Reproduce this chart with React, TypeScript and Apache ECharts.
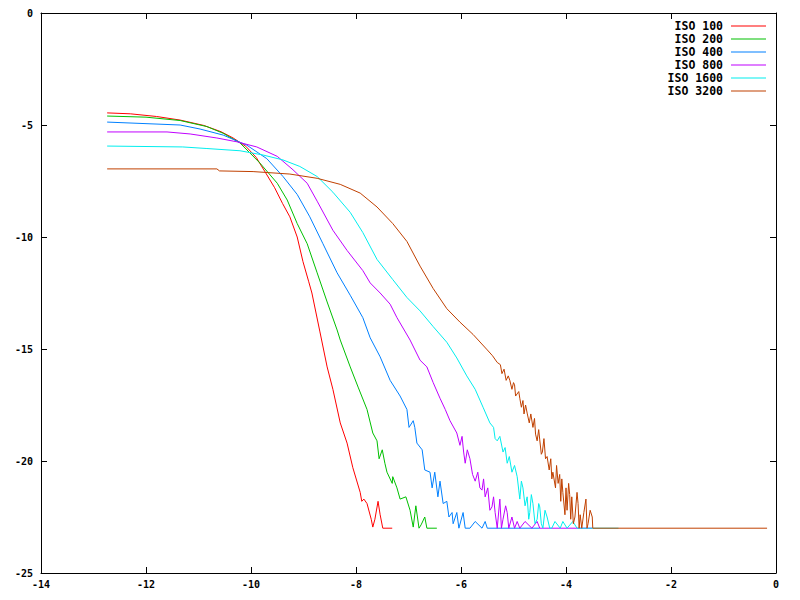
import React, { useEffect, useRef } from "react";
import * as echarts from "echarts";

const seriesNames = ["ISO 100", "ISO 200", "ISO 400", "ISO 800", "ISO 1600", "ISO 3200"];
const seriesColors = ["#ff0000", "#00c000", "#0080ff", "#c000ff", "#00eeee", "#c04000"];

const xTicks = [-14, -12, -10, -8, -6, -4, -2, 0];
const yTicks = [0, -5, -10, -15, -20, -25];

const iso100 = [
  [-12.74, -4.46], [-12.3, -4.5], [-11.8, -4.62], [-11.35, -4.78], [-10.9, -5.02], [-10.57, -5.3],
  [-10.34, -5.58], [-10.1, -5.95], [-9.9, -6.45], [-9.73, -7.1], [-9.55, -7.8], [-9.4, -8.5],
  [-9.26, -9.1], [-9.12, -10.0], [-9.01, -11.1], [-8.9, -12.0], [-8.84, -12.5], [-8.69, -14.2],
  [-8.55, -15.8], [-8.44, -16.8], [-8.3, -18.3], [-8.17, -19.2], [-8.06, -20.3], [-7.92, -21.4],
  [-7.89, -21.8], [-7.85, -21.7], [-7.79, -21.9], [-7.71, -22.6], [-7.68, -22.95], [-7.64, -22.6],
  [-7.58, -21.8], [-7.54, -22.4], [-7.49, -23], [-7.31, -23],
];

const iso200 = [
  [-12.74, -4.6], [-12.0, -4.65], [-11.35, -4.8], [-10.84, -5.07], [-10.53, -5.37], [-10.21, -5.8],
  [-9.83, -6.7], [-9.5, -7.6], [-9.31, -8.35], [-9.12, -9.4], [-8.93, -10.3], [-8.74, -11.6],
  [-8.55, -12.9], [-8.36, -14.15], [-8.3, -14.6], [-8.11, -15.8], [-7.96, -16.7], [-7.79, -17.7],
  [-7.68, -18.75], [-7.6, -19.1], [-7.56, -19.9], [-7.5, -19.5], [-7.45, -20.1], [-7.41, -20.5],
  [-7.31, -21.0], [-7.3, -20.7], [-7.22, -21.2], [-7.16, -21.7], [-7.05, -21.6], [-6.97, -22.2],
  [-6.91, -22.95], [-6.86, -22.0], [-6.8, -23], [-6.76, -22.85], [-6.69, -22.5], [-6.65, -23],
  [-6.46, -23],
];

const iso400 = [
  [-12.74, -4.87], [-11.35, -5.0], [-10.97, -5.18], [-10.53, -5.45], [-10.08, -5.9], [-9.7, -6.5],
  [-9.39, -7.3], [-9.12, -8.1], [-8.88, -9.1], [-8.63, -10.3], [-8.36, -11.6], [-8.11, -12.6],
  [-7.87, -13.6], [-7.73, -14.5], [-7.54, -15.35], [-7.35, -16.4], [-7.16, -17.1], [-7.03, -17.7],
  [-6.99, -18.5], [-6.91, -18.2], [-6.88, -18.5], [-6.84, -19.2], [-6.74, -19.5], [-6.69, -20.4],
  [-6.59, -20.5], [-6.55, -21.2], [-6.5, -20.5], [-6.44, -21.6], [-6.4, -20.9], [-6.34, -21.9],
  [-6.27, -21.8], [-6.23, -22.5], [-6.17, -22.3], [-6.15, -22.8], [-6.08, -22.3], [-6.04, -23],
  [-5.96, -22.3], [-5.92, -23], [-5.83, -23], [-5.73, -22.7], [-5.6, -23], [-5.54, -22.7],
  [-5.5, -23], [-4.5, -23],
];

const iso800 = [
  [-12.74, -5.31], [-11.6, -5.31], [-11.16, -5.4], [-10.65, -5.58], [-10.27, -5.75], [-9.89, -5.98],
  [-9.5, -6.4], [-9.2, -7.0], [-8.93, -7.6], [-8.74, -8.4], [-8.44, -9.7], [-8.17, -10.6],
  [-7.87, -11.5], [-7.73, -12.05], [-7.54, -12.5], [-7.35, -13.0], [-7.22, -13.6], [-6.97, -14.6],
  [-6.78, -15.5], [-6.65, -15.8], [-6.53, -16.5], [-6.4, -17.2], [-6.3, -17.7], [-6.21, -18.2],
  [-6.08, -18.75], [-6.02, -19.3], [-5.98, -18.9], [-5.95, -19.6], [-5.92, -20.1], [-5.88, -19.5],
  [-5.83, -19.9], [-5.78, -20.6], [-5.73, -20.9], [-5.68, -20.5], [-5.64, -21.2], [-5.6, -21.3],
  [-5.57, -20.8], [-5.54, -21.6], [-5.49, -21.2], [-5.45, -22.2], [-5.41, -22.05], [-5.38, -21.6],
  [-5.35, -22.3], [-5.31, -23], [-5.26, -21.7], [-5.23, -23], [-5.2, -22.6], [-5.15, -22.0],
  [-5.12, -22.3], [-5.09, -23], [-5.03, -22.5], [-4.98, -23], [-4.93, -22.7], [-4.88, -23],
  [-4.78, -22.7], [-4.65, -23], [-4.55, -22.7], [-4.5, -23], [-3.5, -23],
];

const iso1600 = [
  [-12.74, -5.94], [-11.3, -5.98], [-10.84, -6.05], [-10.21, -6.15], [-9.77, -6.34], [-9.39, -6.56],
  [-9.07, -6.85], [-8.74, -7.3], [-8.44, -8.0], [-8.11, -8.9], [-7.87, -9.8], [-7.6, -11.0],
  [-7.3, -11.9], [-7.03, -12.7], [-6.78, -13.3], [-6.53, -14.0], [-6.27, -14.7], [-6.08, -15.4],
  [-5.89, -16.2], [-5.73, -16.8], [-5.58, -17.6], [-5.45, -18.3], [-5.38, -18.5], [-5.35, -19.0],
  [-5.31, -19.1], [-5.26, -18.9], [-5.2, -19.6], [-5.16, -19.4], [-5.12, -20.1], [-5.08, -19.8],
  [-5.03, -20.5], [-4.98, -20.2], [-4.93, -20.7], [-4.9, -21.3], [-4.88, -21.7], [-4.85, -20.9],
  [-4.82, -21.2], [-4.78, -22.0], [-4.74, -21.6], [-4.71, -22.6], [-4.69, -22.3], [-4.66, -21.5],
  [-4.63, -21.9], [-4.59, -22.8], [-4.55, -22.6], [-4.52, -21.9], [-4.5, -22.05], [-4.47, -22.8],
  [-4.44, -23], [-4.4, -22.2], [-4.36, -22.5], [-4.31, -23], [-4.27, -23], [-4.21, -22.7],
  [-4.11, -23], [-4.06, -22.7], [-3.98, -23], [-3.87, -22.7], [-3.79, -23], [-3.0, -23],
];

const iso3200 = [
  [-12.74, -6.96], [-10.65, -6.96], [-10.6, -7.05], [-9.96, -7.08], [-9.26, -7.19], [-8.74, -7.38],
  [-8.3, -7.65], [-7.92, -8.04], [-7.6, -8.66], [-7.3, -9.4], [-7.03, -10.2], [-6.78, -11.3],
  [-6.53, -12.3], [-6.27, -13.2], [-6.02, -13.8], [-5.77, -14.35], [-5.5, -15.04], [-5.4, -15.3],
  [-5.31, -15.6], [-5.25, -15.7], [-5.22, -16.1], [-5.18, -15.9], [-5.14, -16.4], [-5.1, -16.2],
  [-5.07, -16.4], [-5.03, -16.8], [-5.0, -16.5], [-4.98, -16.6], [-4.96, -17.1], [-4.9, -16.9],
  [-4.88, -17.2], [-4.85, -17.6], [-4.82, -17.3], [-4.8, -17.9], [-4.77, -17.5], [-4.74, -17.86],
  [-4.7, -18.3], [-4.67, -17.9], [-4.63, -18.5], [-4.6, -18.1], [-4.58, -18.8], [-4.55, -19.1],
  [-4.52, -18.6], [-4.5, -19.06], [-4.47, -19.7], [-4.45, -19.6], [-4.42, -19.0], [-4.39, -19.9],
  [-4.36, -19.8], [-4.32, -20.4], [-4.29, -19.9], [-4.27, -20.8], [-4.25, -20.5], [-4.2, -21.2],
  [-4.18, -20.2], [-4.15, -21.0], [-4.12, -20.6], [-4.1, -21.8], [-4.08, -20.8], [-4.06, -21.4],
  [-4.02, -22.4], [-4.0, -21.2], [-3.98, -22.2], [-3.95, -21.0], [-3.93, -21.5], [-3.91, -22.6],
  [-3.89, -21.6], [-3.86, -22.8], [-3.83, -22.5], [-3.79, -21.4], [-3.77, -21.9], [-3.75, -23],
  [-3.73, -22.4], [-3.7, -23], [-3.66, -22.3], [-3.62, -21.7], [-3.6, -23], [-3.58, -22.8],
  [-3.54, -22.2], [-3.5, -22.5], [-3.49, -23], [-0.17, -23],
];

const seriesData = [iso100, iso200, iso400, iso800, iso1600, iso3200];

export default function App() {
  const ref = useRef<HTMLDivElement>(null);
  useEffect(() => {
    if (!ref.current) return;
    const chart = echarts.init(ref.current, undefined, { renderer: "svg" });
    const labelFont = {
      fontFamily: "DejaVu Sans Mono",
      fontWeight: "bold" as const,
      fontSize: 10,
      color: "#000",
    };
    const axisBase = {
      type: "value" as const,
      splitLine: { show: false },
      axisLine: { show: true, onZero: false, lineStyle: { color: "#000", width: 1 } },
      axisTick: { show: true, inside: true, length: 6, lineStyle: { color: "#000" } },
    };
    const legends = seriesNames.map((name, i) => ({
      show: true,
      data: [{ name, icon: "rect", itemStyle: { color: seriesColors[i] } }],
      right: 34,
      top: 20 + i * 13,
      orient: "vertical" as const,
      align: "right" as const,
      itemWidth: 35,
      itemHeight: 1,
      padding: 0,
      selectedMode: false,
      textStyle: {
        fontFamily: "DejaVu Sans Mono",
        fontWeight: "bold" as const,
        fontSize: 11.5,
        color: "#000",
        padding: [0, 3, 0, 0],
      },
    }));
    chart.setOption({
      animation: false,
      backgroundColor: "#fff",
      grid: { left: 41, right: 24, top: 13, bottom: 27, containLabel: false },
      legend: legends,
      xAxis: [
        {
          ...axisBase,
          position: "bottom",
          min: xTicks[0],
          max: xTicks[xTicks.length - 1],
          interval: 2,
          axisLabel: { ...labelFont, margin: 6 },
        },
        {
          ...axisBase,
          position: "top",
          min: xTicks[0],
          max: xTicks[xTicks.length - 1],
          interval: 2,
          axisLabel: { show: false },
        },
      ],
      yAxis: [
        {
          ...axisBase,
          position: "left",
          min: yTicks[yTicks.length - 1],
          max: yTicks[0],
          interval: 5,
          axisLabel: { ...labelFont, margin: 8 },
        },
        {
          ...axisBase,
          position: "right",
          min: yTicks[yTicks.length - 1],
          max: yTicks[0],
          interval: 5,
          axisLabel: { show: false },
        },
      ],
      series: seriesNames.map((name, i) => ({
        name,
        type: "line",
        data: seriesData[i],
        xAxisIndex: 0,
        yAxisIndex: 0,
        symbol: "none",
        showSymbol: false,
        color: seriesColors[i],
        lineStyle: { color: seriesColors[i], width: 1 },
        emphasis: { disabled: true },
      })),
    });
    return () => chart.dispose();
  }, []);
  return <div ref={ref} style={{ width: 800, height: 600, position: "absolute", left: 0, top: 0 }} />;
}
